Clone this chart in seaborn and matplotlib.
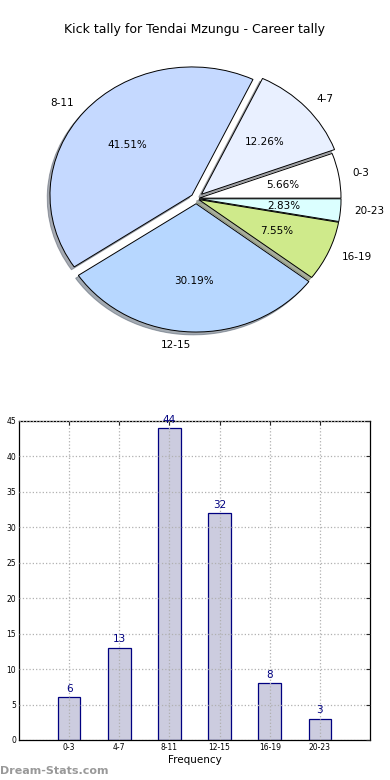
import matplotlib
matplotlib.use("Agg")
import matplotlib.pyplot as plt
import seaborn as sns
import pandas as pd

categories = ["0-3", "4-7", "8-11", "12-15", "16-19", "20-23"]
counts = [6, 13, 44, 32, 8, 3]
pie_colors = ["#ffffff", "#e9f0ff", "#c5d9ff", "#b7d7ff", "#cfea8b", "#dbffff"]
explode = [0.02, 0.05, 0.04, 0.04, 0.02, 0.02]
yticks = list(range(0, 50, 5))

sns.set_style("white")
plt.rcParams['font.family'] = ['DejaVu Sans']
plt.rcParams['text.color'] = 'black'

fig = plt.figure(figsize=(3.9, 7.8), dpi=100)
fig.text(0.5, 1 - 30 / 780, "Kick tally for Tendai Mzungu - Career tally",
         ha="center", va="center", fontsize=9, color="black")

# Pie (elliptical, as in the reference)
axp = fig.add_axes([0.0482, 0.5398, 0.910, 0.4112])
wedges, texts, autotexts = axp.pie(
    counts, labels=categories, colors=pie_colors, explode=explode,
    autopct="%1.2f%%", shadow=dict(ox=-0.014, oy=-0.016, shade=0.6),
    startangle=0,
    wedgeprops=dict(edgecolor="black", linewidth=0.7),
    textprops=dict(fontsize=7.5, color="black"))
axp.set_aspect("auto")
axp.set_xlim(-1.25, 1.25)
axp.set_ylim(-1.25, 1.25)
axp.axis("off")

# Bars
axb = fig.add_axes([0.0487, 0.0513, 0.9, 0.409])
df = pd.DataFrame({"cat": categories, "count": counts})
sns.barplot(data=df, x="cat", y="count", ax=axb, width=0.45,
            color="#ccccdf", edgecolor="#000080", linewidth=0.9,
            saturation=1)
for p, v in zip(axb.patches, counts):
    axb.text(p.get_x() + p.get_width() / 2, v + 0.5, str(v),
             ha="center", va="bottom", color="#000080", fontsize=7.5)
axb.set_xlim(-1, 6)
axb.set_ylim(0, 45)
axb.set_yticks(yticks)
axb.set_ylabel("")
axb.set_xlabel("Frequency", fontsize=7.5, labelpad=2, color="black")
axb.tick_params(axis="both", labelsize=5.5, direction="in", length=3,
                top=True, right=True, pad=2, labelcolor="black")
axb.grid(True, linestyle=":", color="#b0b0b0", linewidth=0.9)
axb.set_axisbelow(False)
for s in axb.spines.values():
    s.set_visible(True)
    s.set_color("black")
    s.set_linewidth(0.9)

fig.text(0.0, 1 - 771 / 780, "Dream-Stats.com", ha="left", va="center",
         fontsize=8, color="#999999", fontweight="bold")

fig.savefig("out.png", dpi=100)
